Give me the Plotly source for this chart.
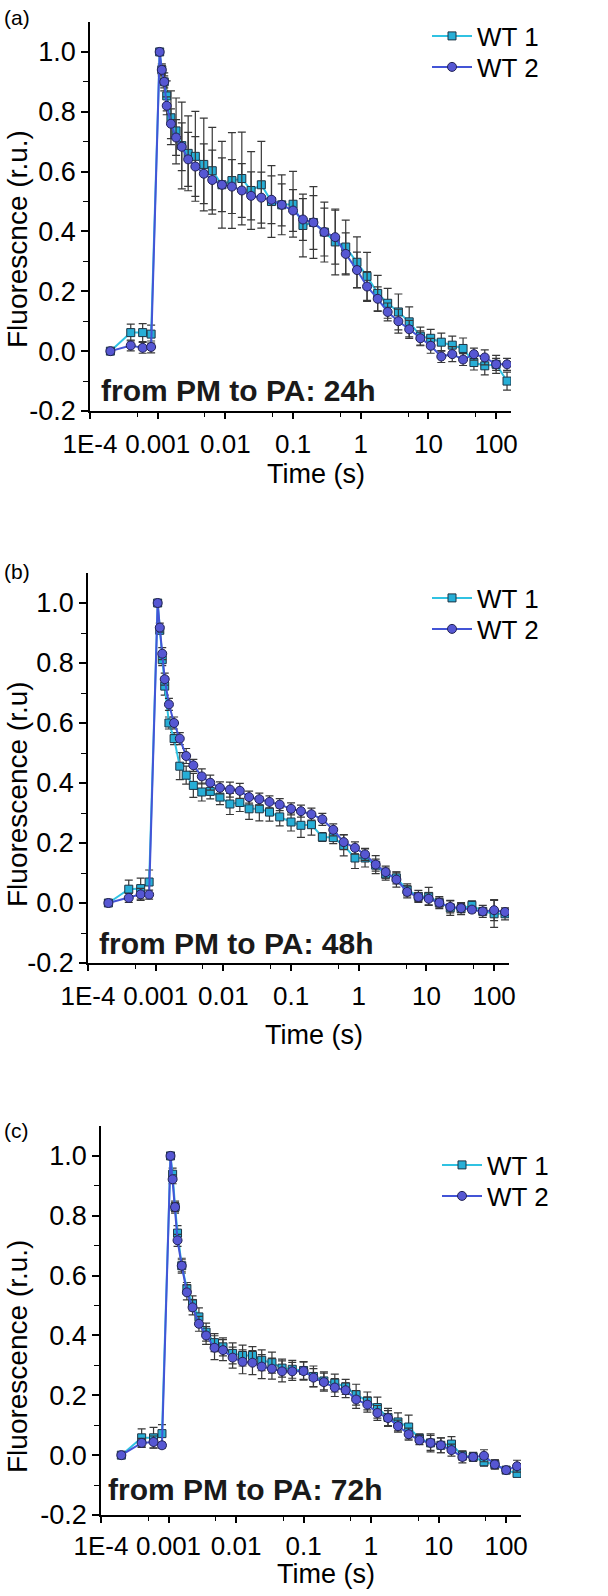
import plotly.graph_objects as go

W, H = 608, 1596

# ---------------- data ----------------
time_s = [2e-4, 4e-4, 6e-4, 8e-4,
          1.07e-3, 1.15e-3, 1.25e-3, 1.36e-3, 1.57e-3, 1.87e-3, 2.27e-3, 2.82e-3, 3.6e-3, 4.8e-3,
          6.4e-3, 8.9e-3, 1.25e-2, 1.75e-2, 2.4e-2, 3.4e-2, 4.8e-2, 6.8e-2,
          0.1, 0.14, 0.2, 0.29, 0.42, 0.6, 0.88, 1.24, 1.78, 2.5, 3.6, 5.2, 7.6, 10.8,
          15.5, 22.5, 32.5, 47, 68, 100, 145]

a_wt1 = [0, 0.062, 0.062, 0.057,
         1.0, 0.94, 0.90, 0.853, 0.78, 0.736, 0.687, 0.661, 0.651, 0.624, 0.603, 0.556, 0.570, 0.577,
         0.537, 0.556, 0.50, 0.489,
         0.491, 0.42, 0.43, 0.398, 0.365, 0.348, 0.297, 0.25, 0.193, 0.16, 0.131, 0.098, 0.05, 0.043,
         0.03, 0.02, 0.009, -0.038, -0.049, -0.044, -0.10]
a_wt2 = [0, 0.019, 0.011, 0.014,
         1.0, 0.94, 0.90, 0.82, 0.76, 0.714, 0.683, 0.641, 0.617, 0.593, 0.572, 0.556, 0.55, 0.537,
         0.519, 0.513, 0.506, 0.489,
         0.47, 0.44, 0.43, 0.398, 0.381, 0.325, 0.271, 0.216, 0.175, 0.131, 0.10, 0.073, 0.043, 0.018,
         -0.018, -0.01, -0.028, -0.01, -0.021, -0.044, -0.044]
a_err1 = [0, 0.028, 0.03, 0.03,
          0, 0.02, 0.03, 0.05, 0.09, 0.11, 0.145, 0.125, 0.15, 0.155, 0.145, 0.145, 0.16, 0.155,
          0.13, 0.145, 0.12, 0.10,
          0.11, 0.105, 0.12, 0.10, 0.11, 0.09, 0.085, 0.08, 0.06, 0.05, 0.06, 0.05, 0.03, 0.03,
          0.03, 0.03, 0.035, 0.025, 0.03, 0.03, 0.03]
a_err2 = [0, 0.018, 0.018, 0.02,
          0, 0.015, 0.02, 0.03, 0.05, 0.06, 0.08, 0.09, 0.10, 0.10, 0.10, 0.09, 0.09, 0.09,
          0.08, 0.085, 0.08, 0.07,
          0.07, 0.07, 0.09, 0.08, 0.09, 0.07, 0.06, 0.05, 0.04, 0.03, 0.04, 0.03, 0.025, 0.025,
          0.02, 0.025, 0.02, 0.02, 0.025, 0.02, 0.02]

b_wt1 = [0, 0.046, 0.048, 0.07,
         1.0, 0.909, 0.811, 0.723, 0.60, 0.548, 0.456, 0.426, 0.392, 0.37, 0.372, 0.353, 0.33, 0.335,
         0.314, 0.314, 0.303, 0.287,
         0.27, 0.259, 0.261, 0.22, 0.218, 0.192, 0.15, 0.15, 0.126, 0.096, 0.084, 0.044, 0.022, 0.022,
         0.001, -0.016, -0.019, -0.008, -0.028, -0.036, -0.036]
b_wt2 = [0, 0.017, 0.029, 0.028,
         1.0, 0.918, 0.831, 0.746, 0.662, 0.60, 0.548, 0.49, 0.459, 0.422, 0.401, 0.384, 0.378, 0.374,
         0.353, 0.346, 0.337, 0.328,
         0.314, 0.306, 0.296, 0.279, 0.244, 0.203, 0.184, 0.162, 0.128, 0.103, 0.078, 0.037, 0.02, 0.014,
         0.001, -0.013, -0.017, -0.022, -0.028, -0.024, -0.03]
b_err1 = [0, 0.03, 0.035, 0.04,
          0, 0.01, 0.02, 0.03, 0.02, 0.02, 0.045, 0.03, 0.04, 0.03, 0.025, 0.025, 0.035, 0.03,
          0.035, 0.04, 0.03, 0.03,
          0.03, 0.04, 0.035, 0.015, 0.02, 0.035, 0.035, 0.03, 0.02, 0.02, 0.02, 0.02, 0.02, 0.03,
          0.02, 0.025, 0.02, 0.015, 0.02, 0.045, 0.02]
b_err2 = [0, 0.015, 0.02, 0.015,
          0, 0.015, 0.02, 0.02, 0.02, 0.02, 0.02, 0.025, 0.02, 0.025, 0.025, 0.02, 0.025, 0.025,
          0.02, 0.02, 0.02, 0.02,
          0.02, 0.02, 0.02, 0.02, 0.02, 0.025, 0.02, 0.02, 0.03, 0.02, 0.025, 0.02, 0.015, 0.02,
          0.015, 0.02, 0.015, 0.01, 0.01, 0.035, 0.01]

c_wt1 = [0, 0.058, 0.058, 0.072,
         1.0, 0.939, 0.829, 0.742, 0.633, 0.557, 0.507, 0.462, 0.411, 0.376, 0.362, 0.34, 0.333, 0.333,
         0.317, 0.309, 0.291, 0.287,
         0.283, 0.263, 0.248, 0.241, 0.228, 0.202, 0.181, 0.159, 0.126, 0.111, 0.094, 0.056, 0.041, 0.033,
         0.037, -0.002, -0.006, -0.022, -0.031, -0.05, -0.061]
c_wt2 = [0, 0.041, 0.044, 0.033,
         1.0, 0.922, 0.829, 0.718, 0.633, 0.544, 0.494, 0.439, 0.40, 0.359, 0.351, 0.326, 0.312, 0.309,
         0.296, 0.289, 0.28, 0.28,
         0.281, 0.259, 0.244, 0.226, 0.217, 0.186, 0.169, 0.141, 0.124, 0.097, 0.07, 0.05, 0.041, 0.033,
         0.017, -0.006, -0.006, -0.002, -0.031, -0.05, -0.037]
c_err1 = [0, 0.03, 0.035, 0.03,
          0, 0.02, 0.02, 0.025, 0.025, 0.02, 0.025, 0.03, 0.03, 0.03, 0.03, 0.035, 0.035, 0.03,
          0.035, 0.035, 0.03, 0.03,
          0.03, 0.035, 0.03, 0.03, 0.025, 0.035, 0.03, 0.035, 0.03, 0.03, 0.04, 0.015, 0.03, 0.025,
          0.025, 0.015, 0.015, 0.015, 0.015, 0.01, 0.01]
c_err2 = [0, 0.015, 0.02, 0.01,
          0, 0.015, 0.015, 0.02, 0.02, 0.025, 0.025, 0.025, 0.03, 0.04, 0.035, 0.035, 0.04, 0.04,
          0.04, 0.035, 0.035, 0.03,
          0.03, 0.03, 0.03, 0.03, 0.025, 0.03, 0.025, 0.025, 0.025, 0.02, 0.02, 0.015, 0.025, 0.025,
          0.02, 0.02, 0.01, 0.02, 0.015, 0.01, 0.02]

series_names = ["WT 1", "WT 2"]
panel_letters = ["(a)", "(b)", "(c)"]
panel_notes = ["from PM to PA: 24h", "from PM to PA: 48h", "from PM to PA: 72h"]
y_titles = ["Fluorescnce (r.u.)", "Fluorescence (r.u)", "Fluorescence (r.u.)"]
x_title = "Time (s)"
x_tickvals = [1e-4, 1e-3, 1e-2, 1e-1, 1, 10, 100]
x_ticktext = ["1E-4", "0.001", "0.01", "0.1", "1", "10", "100"]
x_minor = [5e-4, 5e-3, 5e-2, 0.5, 5, 50]
y_tickvals = [-0.2, 0.0, 0.2, 0.4, 0.6, 0.8, 1.0]
y_ticktext = ["-0.2", "0.0", "0.2", "0.4", "0.6", "0.8", "1.0"]
y_minor = [-0.1, 0.1, 0.3, 0.5, 0.7, 0.9]

panels = [
    (a_wt1, a_wt2, a_err1, a_err2),
    (b_wt1, b_wt2, b_err1, b_err2),
    (c_wt1, c_wt2, c_err1, c_err2),
]

# ---------------- layout (pixel boxes) ----------------
boxes = [  # x0, x1, ytop, ybottom
    (90, 511, 22, 411),
    (88, 509, 573, 963),
    (101, 521, 1126, 1515),
]
legend_text_x = [471, 471, 481]
legend_rows = [(36, 67), (598, 629), (1165, 1196)]
letter_pos = [(2, 18), (2, 571), (2, 1130)]
note_pos = [(99, 390), (97, 943), (106, 1489)]
ytitle_center = [239, 794, 1357]
xtitle_offset = [63, 72, 59]
xtick_standoff = [3, 3, 1]

FONT = "Liberation Sans, Arial, sans-serif"
C1_LINE, C1_FILL = "#30C2E2", "#27AED6"
C2_LINE, C2_FILL = "#4354D6", "#5657D3"
ERRC = "#383838"

def px(x):
    return x / W

def py(y):
    return 1 - y / H

fig = go.Figure()
layout = dict(width=W, height=H, margin=dict(l=0, r=0, t=0, b=0, autoexpand=False),
              paper_bgcolor="white", plot_bgcolor="white", showlegend=True,
              font=dict(family=FONT, color="black"))
annotations = []

for i, (s1, s2, e1, e2) in enumerate(panels):
    k = "" if i == 0 else str(i + 1)
    xa, ya = "x" + k, "y" + k
    leg1 = "legend" if i == 0 else "legend" + str(2 * i + 1)
    leg2 = "legend" + str(2 * i + 2)
    fig.add_trace(go.Scatter(
        x=time_s, y=s1, name=series_names[0], mode="lines+markers", xaxis=xa, yaxis=ya, legend=leg1,
        line=dict(color=C1_LINE, width=2),
        marker=dict(symbol="square", size=8, color=C1_FILL, line=dict(color="#1d3344", width=1)),
        error_y=dict(type="data", array=e1, color=ERRC, thickness=1.2, width=4)))
    fig.add_trace(go.Scatter(
        x=time_s, y=s2, name=series_names[1], mode="lines+markers", xaxis=xa, yaxis=ya, legend=leg2,
        line=dict(color=C2_LINE, width=2),
        marker=dict(symbol="circle", size=9, color=C2_FILL, line=dict(color="#222255", width=1)),
        error_y=dict(type="data", array=e2, color=ERRC, thickness=1.2, width=4)))

    x0, x1, yt, yb = boxes[i]
    layout["xaxis" + k] = dict(
        domain=[px(x0), px(x1)], anchor=ya, type="log", range=[-4, 2.22],
        showline=True, linecolor="black", linewidth=1.5, mirror=False,
        ticks="outside", ticklen=6, tickwidth=1.5, tickcolor="black", ticklabelstandoff=xtick_standoff[i],
        tickvals=x_tickvals, ticktext=x_ticktext, tickfont=dict(size=26, family=FONT),
        showgrid=False, zeroline=False,
        minor=dict(tickvals=x_minor, ticks="outside", ticklen=4, tickwidth=1.2, tickcolor="black", showgrid=False))
    layout["yaxis" + k] = dict(
        domain=[py(yb), py(yt)], anchor=xa, range=[-0.2, 1.1],
        showline=True, linecolor="black", linewidth=1.5, mirror=False,
        ticks="outside", ticklen=7, tickwidth=1.5, tickcolor="black",
        tickvals=y_tickvals, ticktext=y_ticktext, tickfont=dict(size=27, family=FONT),
        showgrid=False, zeroline=False,
        minor=dict(tickvals=y_minor, ticks="outside", ticklen=5, tickwidth=1.2, tickcolor="black", showgrid=False))
    for leg, yrow in ((leg1, legend_rows[i][0]), (leg2, legend_rows[i][1])):
        layout[leg] = dict(x=px(legend_text_x[i] - 44), y=py(yrow), xanchor="left", yanchor="middle",
                           xref="paper", yref="paper", bgcolor="rgba(0,0,0,0)", borderwidth=0,
                           font=dict(size=26, family=FONT), itemwidth=40)
    annotations.append(dict(text=panel_letters[i], x=px(letter_pos[i][0]), y=py(letter_pos[i][1]),
                            xref="paper", yref="paper", xanchor="left", yanchor="middle",
                            showarrow=False, font=dict(size=21, family=FONT)))
    annotations.append(dict(text="<b>" + panel_notes[i] + "</b>", x=px(note_pos[i][0]), y=py(note_pos[i][1]),
                            xref="paper", yref="paper", xanchor="left", yanchor="middle",
                            showarrow=False, font=dict(size=30, family=FONT, color="#1a1a1a")))
    annotations.append(dict(text=x_title, x=px((x0 + x1) / 2 + 15), y=py(yb + xtitle_offset[i]),
                            xref="paper", yref="paper", xanchor="center", yanchor="middle",
                            showarrow=False, font=dict(size=27, family=FONT)))
    annotations.append(dict(text=y_titles[i], x=px(17), y=py(ytitle_center[i]),
                            xref="paper", yref="paper", xanchor="center", yanchor="middle",
                            textangle=-90, showarrow=False, font=dict(size=28, family=FONT)))

layout["annotations"] = annotations
fig.update_layout(**layout)
fig.write_html("out.html")
